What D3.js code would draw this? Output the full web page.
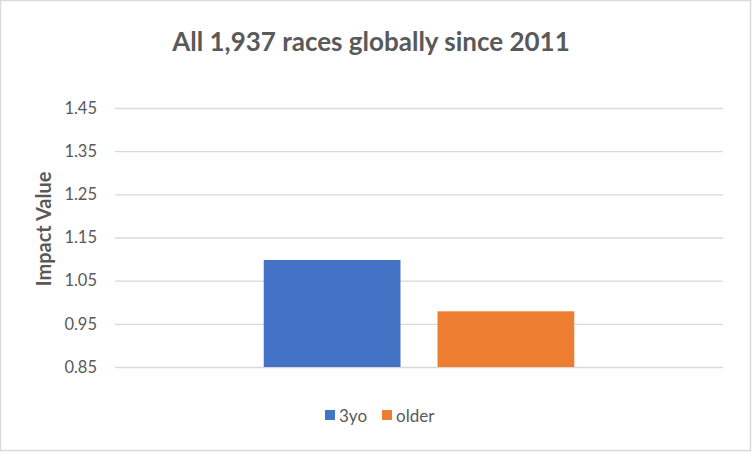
<!DOCTYPE html>
<html><head><meta charset="utf-8">
<script src="https://cdn.jsdelivr.net/npm/d3@7"></script>
<style>body{margin:0;background:#fff}svg{display:block}text{font-family:Lato,"Open Sans",sans-serif}</style>
</head><body>
<script>
const categories = ["All"];
const series = ["3yo", "older"];
const values = [1.098, 0.979];
const yTicks = [0.85, 0.95, 1.05, 1.15, 1.25, 1.35, 1.45];
const colors = ["#4472C4", "#ED7D31"];
const title = "All 1,937 races globally since 2011";
const yLabel = "Impact Value";

const W = 752, H = 452;
const svg = d3.select("body").append("svg").attr("width", W).attr("height", H);
svg.append("rect").attr("x", 0.5).attr("y", 0.5).attr("width", W - 2).attr("height", H - 2)
  .attr("fill", "#fff").attr("stroke", "#d9d9d9").attr("stroke-width", 1.5);

const plot = {left: 115, right: 723, top: 108, bottom: 367};
const y = d3.scaleLinear().domain([0.85, 1.45]).range([plot.bottom, plot.top]);
const x0 = d3.scaleBand().domain(categories).range([plot.left, plot.right]).paddingInner(0).paddingOuter(0.479);
const x1 = d3.scaleBand().domain(series).range([0, x0.bandwidth()]).paddingInner(0.213);

const yAxis = d3.axisLeft(y).tickValues(yTicks).tickSize(-(plot.right - plot.left)).tickPadding(18).tickFormat(d3.format(".2f"));
const ga = svg.append("g").attr("transform", `translate(${plot.left},0)`).call(yAxis);
ga.select(".domain").remove();
ga.selectAll(".tick line").attr("stroke", "#d9d9d9").attr("stroke-width", 1.3);
ga.selectAll(".tick text").attr("fill", "#595959").style("font-size", "16.5px").style("font-family", "Lato, 'Open Sans', sans-serif");

const g = svg.append("g");
categories.forEach((c, ci) => {
  series.forEach((s, si) => {
    g.append("rect")
      .attr("x", x0(c) + x1(s))
      .attr("width", x1.bandwidth())
      .attr("y", y(values[si]))
      .attr("height", y(0.85) - y(values[si]))
      .attr("fill", colors[si]);
  });
});

svg.append("text").attr("x", 371).attr("y", 51).attr("text-anchor", "middle")
  .attr("fill", "#595959").style("font-size", "26px").style("font-weight", "bold").text(title);

svg.append("text").attr("transform", "translate(51,229) rotate(-90)").attr("text-anchor", "middle")
  .attr("fill", "#595959").style("font-size", "20px").style("font-weight", "bold").text(yLabel);

const lg = svg.append("g");
const legX = [325, 382];
series.forEach((s, i) => {
  lg.append("rect").attr("x", legX[i]).attr("y", 410).attr("width", 10).attr("height", 10).attr("fill", colors[i]);
  lg.append("text").attr("x", legX[i] + 14).attr("y", 422).attr("fill", "#595959").style("font-size", "17px").text(s);
});
</script>
</body></html>
